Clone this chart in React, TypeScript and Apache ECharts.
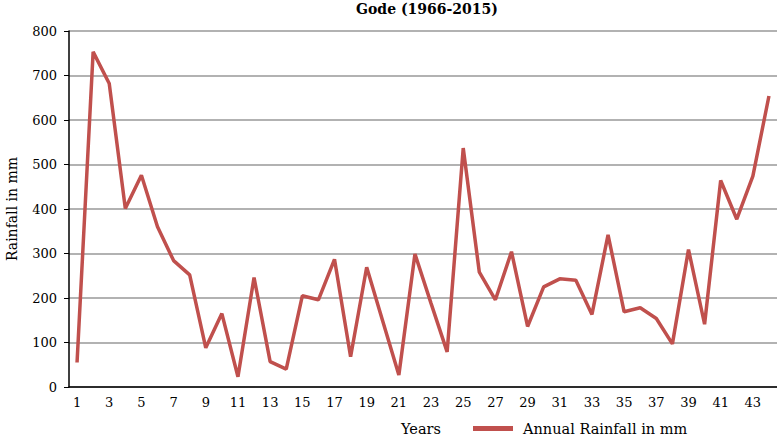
import React, { useEffect, useRef } from "react";
import * as echarts from "echarts";

const title = "Gode (1966-2015)";
const yearIndex: string[] = Array.from({ length: 44 }, (_, i) => String(i + 1));
const rainfall: number[] = [
  55, 753, 682, 401, 476, 360, 284, 252, 88, 165,
  23, 246, 57, 40, 205, 196, 287, 68, 269, 148,
  27, 299, 188, 79, 537, 258, 196, 304, 136, 225,
  243, 240, 163, 342, 169, 178, 154, 97, 309, 141,
  464, 377, 474, 654,
];
const seriesName = "Annual Rainfall in mm";
const yName = "Rainfall in mm";
const xName = "Years";

const FONT = "DejaVu Serif";

export default function App() {
  const ref = useRef<HTMLDivElement>(null);
  useEffect(() => {
    document.body.style.margin = "0";
    if (!ref.current) return;
    const chart = echarts.init(ref.current, null, { renderer: "svg" });
    chart.setOption({
      animation: false,
      backgroundColor: "#ffffff",
      title: {
        text: title,
        left: 427,
        textAlign: "center",
        top: 2,
        padding: 0,
        textStyle: { fontFamily: FONT, fontSize: 14, fontWeight: "bold", color: "#000" },
      },
      grid: {
        left: 69,
        right: 0,
        top: 31,
        bottom: 49,
        containLabel: false,
        outerBoundsMode: "none",
      },
      legend: {
        left: 473,
        top: 421,
        padding: 0,
        itemWidth: 40,
        itemHeight: 5,
        itemGap: 10,
        icon: "rect",
        textStyle: {
          fontFamily: FONT,
          fontSize: 14.5,
          lineHeight: 14,
          color: "#000",
          padding: [0, 0, 0, 5],
        },
        data: [seriesName],
      },
      graphic: [
        {
          type: "text",
          left: 401,
          top: 421,
          style: {
            text: xName,
            font: `14.5px "${FONT}"`,
            lineHeight: 14,
            fill: "#000",
          },
        },
      ],
      xAxis: {
        type: "category",
        data: yearIndex,
        boundaryGap: true,
        axisLine: { show: true, lineStyle: { color: "#000", width: 1.5 } },
        axisTick: { show: false },
        axisLabel: {
          interval: 1,
          fontFamily: FONT,
          fontSize: 13,
          color: "#000",
          margin: 9,
        },
        splitLine: { show: false },
      },
      yAxis: {
        type: "value",
        min: 0,
        max: 800,
        interval: 100,
        name: yName,
        nameLocation: "middle",
        nameRotate: 90,
        nameGap: 50,
        nameTextStyle: { fontFamily: FONT, fontSize: 14, color: "#000" },
        axisLine: { show: true, lineStyle: { color: "#000", width: 1.5 } },
        axisTick: { show: true, length: 5, lineStyle: { color: "#000" } },
        axisLabel: { fontFamily: FONT, fontSize: 13, color: "#000", margin: 12 },
        splitLine: { show: true, lineStyle: { color: "#999", width: 1.5 } },
      },
      series: [
        {
          name: seriesName,
          type: "line",
          data: rainfall,
          showSymbol: false,
          symbol: "none",
          lineStyle: { color: "#C0504D", width: 3.5 },
          itemStyle: { color: "#C0504D" },
        },
      ],
    });
    return () => chart.dispose();
  }, []);
  return <div ref={ref} style={{ width: 777, height: 436 }} />;
}
